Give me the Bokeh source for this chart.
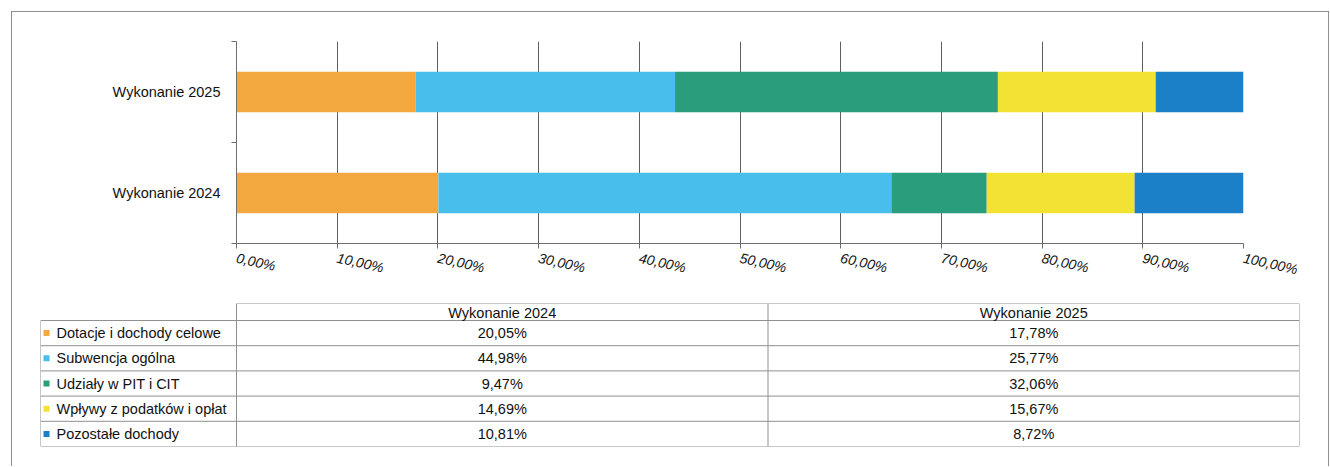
from bokeh.plotting import figure
from bokeh.models import (ColumnDataSource, Range1d, FixedTicker, CustomJSTickFormatter)
from bokeh.layouts import column
from bokeh.core.properties import value
from bokeh.embed import file_html
from bokeh.resources import INLINE

# ---------------- data ----------------
categories = ["Wykonanie 2024", "Wykonanie 2025"]
series = ["Dotacje i dochody celowe", "Subwencja ogólna", "Udziały w PIT i CIT",
          "Wpływy z podatków i opłat", "Pozostałe dochody"]
values_2024 = [20.05, 44.98, 9.47, 14.69, 10.81]
values_2025 = [17.78, 25.77, 32.06, 15.67, 8.72]
x_ticks = [0, 10, 20, 30, 40, 50, 60, 70, 80, 90, 100]

# ---------------- styles ----------------
colors = ["#F3A940", "#47BEEC", "#2A9D7C", "#F2E234", "#1B80C8"]
FONT = "Liberation Sans"
TEXT_COLOR = "#111111"
AXIS_GRAY = "#6e6e6e"
TABLE_GRAY = "#909090"

W = 1316

# ---------------- bar chart ----------------
per_year = [values_2024, values_2025]
data = {"y": [i + 0.5 for i in range(len(categories))]}
for j, s in enumerate(series):
    data[s] = [per_year[i][j] for i in range(len(categories))]
src = ColumnDataSource(data)

p = figure(width=W, height=278, output_backend="svg", toolbar_location=None,
           x_range=Range1d(0, 100), y_range=Range1d(0, len(categories)),
           min_border_left=224, min_border_right=85, min_border_top=29,
           min_border_bottom=47, frame_align=False)
p.hbar_stack(series, y="y", height=0.4, source=src, fill_color=colors,
             line_color=None)

p.outline_line_color = None
p.ygrid.visible = False
p.xgrid.ticker = FixedTicker(ticks=x_ticks)
p.xgrid.grid_line_color = "#5e5e5e"
p.xgrid.grid_line_width = 1

xa = p.xaxis[0]
xa.ticker = FixedTicker(ticks=x_ticks)
xa.formatter = CustomJSTickFormatter(
    code="return tick.toFixed(2).replace('.', ',') + '%';")
xa.major_label_orientation = -0.22
xa.major_label_text_font = FONT
xa.major_label_text_font_style = "italic"
xa.major_label_text_font_size = "14px"
xa.major_label_text_color = TEXT_COLOR
xa.axis_line_color = AXIS_GRAY
xa.major_tick_line_color = AXIS_GRAY
xa.major_tick_out = 5
xa.major_tick_in = 0
xa.minor_tick_line_color = None
xa.major_label_standoff = 9

ya = p.yaxis[0]
ya.ticker = FixedTicker(ticks=[i + 0.5 for i in range(len(categories))],
                        minor_ticks=[float(i) for i in range(len(categories) + 1)])
ya.major_label_overrides = {i + 0.5: c for i, c in enumerate(categories)}
ya.major_tick_line_color = None
ya.major_tick_out = 0
ya.major_tick_in = 0
ya.minor_tick_line_color = AXIS_GRAY
ya.minor_tick_out = 5
ya.minor_tick_in = 0
ya.axis_line_color = AXIS_GRAY
ya.major_label_text_font = FONT
ya.major_label_text_font_size = "14.5px"
ya.major_label_text_color = TEXT_COLOR
ya.major_label_standoff = 11

# ---------------- data table ----------------
label_w = 196
col_w = 531.5
header_h = 17
row_h = 25.2
n_rows = len(series)
tot_w = label_w + col_w * len(categories)
tot_h = header_h + row_h * n_rows

t = figure(width=W, height=176, output_backend="svg", toolbar_location=None,
           x_range=Range1d(0, tot_w), y_range=Range1d(tot_h, 0),
           min_border_left=28, min_border_right=W - 28 - int(tot_w),
           min_border_top=13, min_border_bottom=20, frame_align=False)
t.axis.visible = False
t.grid.visible = False
t.outline_line_color = None

# horizontal lines
hx0, hx1, hy = [], [], []
hx0.append(label_w); hx1.append(tot_w); hy.append(0)
for r in range(n_rows + 1):
    hx0.append(0); hx1.append(tot_w); hy.append(header_h + r * row_h)
t.segment(x0=hx0, y0=hy, x1=hx1, y1=hy, line_color=TABLE_GRAY, line_width=1)
# vertical lines
vx = [0] + [label_w + k * col_w for k in range(len(categories) + 1)]
vy0 = [header_h] + [0] * (len(categories) + 1)
vy1 = [tot_h] * len(vx)
t.segment(x0=vx, y0=vy0, x1=vx, y1=vy1, line_color=TABLE_GRAY, line_width=1)

# header text
hcx = [label_w + (k + 0.5) * col_w for k in range(len(categories))]
t.text(x=hcx, y=[header_h / 2 + 0.5] * len(categories), text=categories,
       text_align="center", text_baseline="middle", text_font=value(FONT),
       text_font_size="14.5px", text_color=TEXT_COLOR)

# series labels with colour keys
ry = [header_h + (r + 0.5) * row_h for r in range(n_rows)]
t.scatter(x=[6] * n_rows, y=ry, marker="square", size=6, fill_color=colors,
          line_color=None)
t.text(x=[16] * n_rows, y=ry, text=series, text_align="left",
       text_baseline="middle", text_font=value(FONT), text_font_size="14.5px",
       text_color=TEXT_COLOR)

# values
for k, vals in enumerate(per_year):
    txt = [f"{v:.2f}".replace(".", ",") + "%" for v in vals]
    t.text(x=[hcx[k]] * n_rows, y=ry, text=txt, text_align="center",
           text_baseline="middle", text_font=value(FONT),
           text_font_size="14.5px", text_color=TEXT_COLOR)

layout = column(p, t, spacing=0,
                styles={"border": "1px solid #8e8e8e", "border-bottom": "none",
                        "margin-left": "11px", "margin-top": "11px"})

open("out.html", "w").write(file_html(layout, INLINE))
